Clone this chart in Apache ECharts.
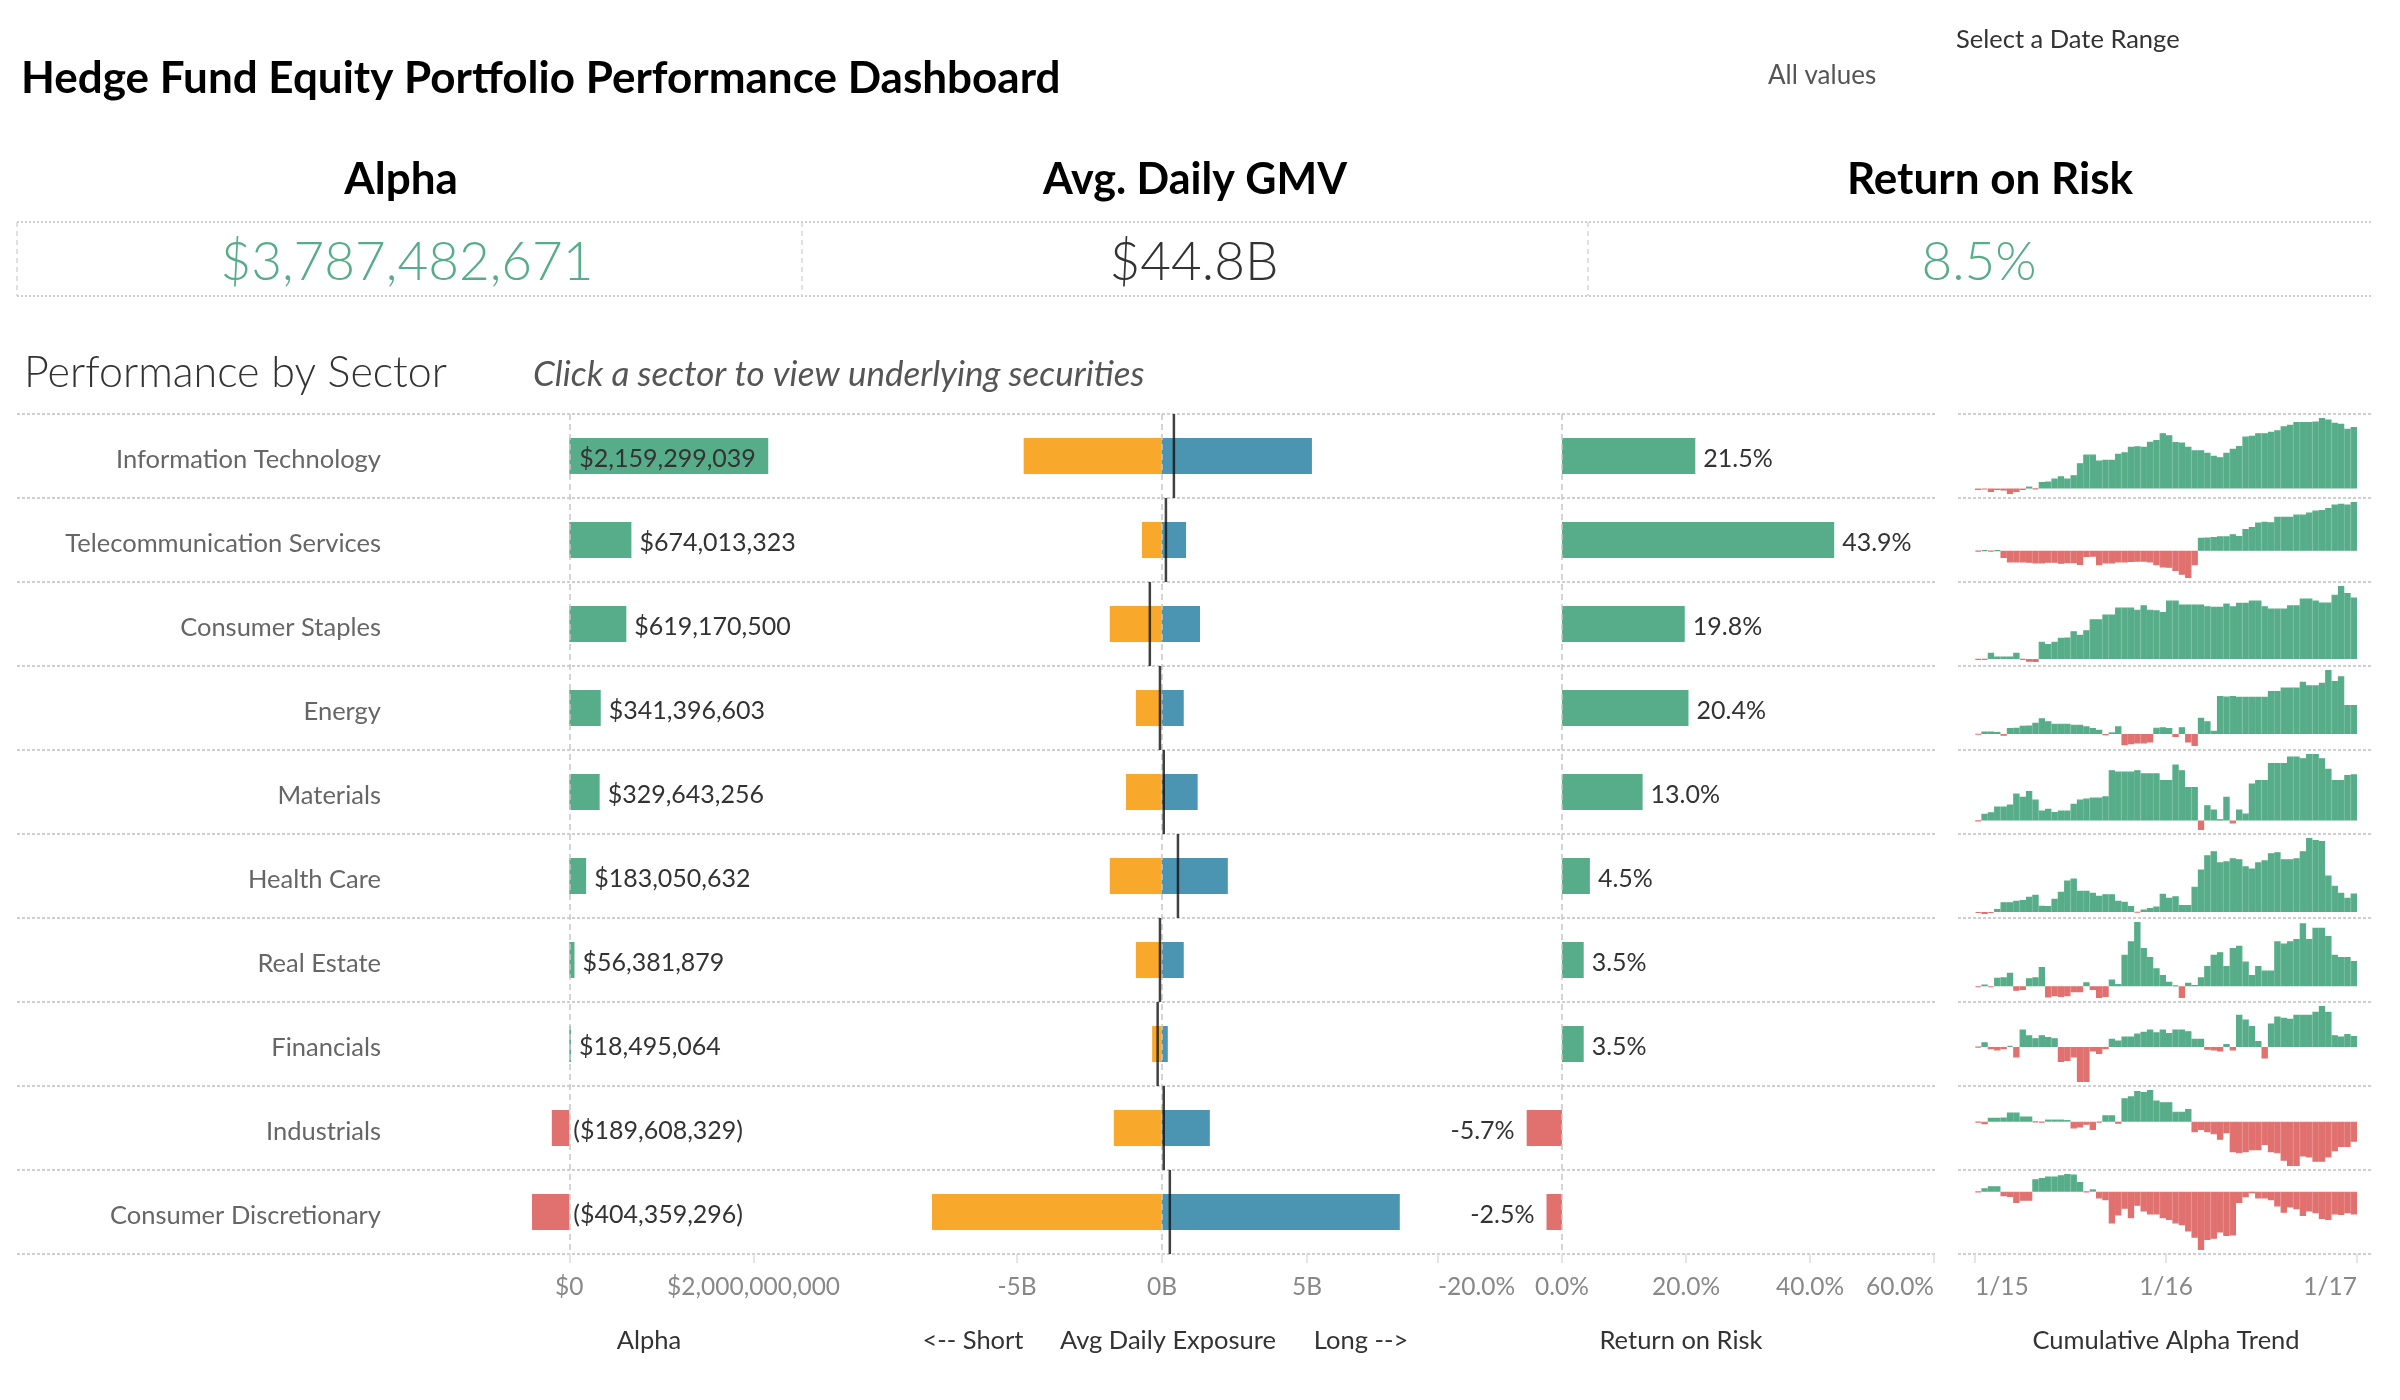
<!DOCTYPE html>
<html><head><meta charset="utf-8">
<script src="https://cdn.jsdelivr.net/npm/echarts@6/dist/echarts.min.js"></script>
<style>html,body{margin:0;padding:0;background:#fff}#c{width:2400px;height:1400px}</style>
</head><body><div id="c"></div><script>
// ---------------- data ----------------
const sectors = ['Information Technology','Telecommunication Services','Consumer Staples','Energy','Materials','Health Care','Real Estate','Financials','Industrials','Consumer Discretionary'];
const alpha = [2159299039, 674013323, 619170500, 341396603, 329643256, 183050632, 56381879, 18495064, -189608329, -404359296];
const shortExposure = [-4.77e9, -0.69e9, -1.80e9, -0.90e9, -1.24e9, -1.80e9, -0.90e9, -0.34e9, -1.66e9, -7.93e9];
const longExposure = [5.17e9, 0.83e9, 1.31e9, 0.75e9, 1.23e9, 2.27e9, 0.75e9, 0.20e9, 1.65e9, 8.20e9];
const netExposure = [0.41e9, 0.135e9, -0.42e9, -0.07e9, 0.06e9, 0.55e9, -0.07e9, -0.15e9, 0.06e9, 0.27e9];
const returnOnRisk = [0.215, 0.439, 0.198, 0.204, 0.130, 0.045, 0.035, 0.035, -0.057, -0.025];
const alphaTicks = [0, 2e9];
const exposureTicks = [-5e9, 0, 5e9];
const dateTicks = ['1/15', '1/16', '1/17'];
const kpiAlpha = '$3,787,482,671';
const kpiGMV = '$44.8B';
const kpiRoR = '8.5%';
// cumulative alpha trend, $M
const trendIT = [-48,-30,-120,-50,-70,-190,-120,-50,70,-20,230,250,350,430,350,470,890,1190,1190,980,1010,1010,1220,1270,1460,1480,1460,1640,1700,1940,1870,1630,1610,1460,1340,1340,1250,1150,1100,1250,1390,1490,1820,1850,1940,1940,1990,2040,2180,2230,2330,2330,2330,2350,2470,2420,2300,2270,2090,2159];
const trendTelecom = [-10,5,-10,5,-100,-160,-160,-160,-165,-175,-175,-165,-165,-180,-170,-170,-195,-85,-80,-200,-175,-175,-160,-160,-155,-150,-150,-160,-200,-230,-235,-280,-330,-375,-200,180,185,190,200,200,230,205,300,330,390,400,395,470,470,470,500,500,530,555,565,590,640,650,640,674];
const trendStaples = [-7,-7,63,25,25,25,63,-7,-28,-30,175,150,175,215,217,280,245,290,400,400,448,448,518,518,518,497,540,497,490,473,588,588,550,550,550,550,532,525,525,560,530,567,567,588,588,532,508,508,508,540,540,609,609,588,570,570,648,735,665,619];
const trendEnergy = [-5,30,30,25,-20,70,74,96,100,131,184,150,122,122,122,110,110,90,70,50,-15,20,90,-131,-120,-110,-110,-100,75,80,70,-35,80,-100,-140,190,150,40,446,440,446,437,437,437,437,437,503,503,546,546,546,612,570,570,600,750,620,677,340,341];
const trendMaterials = [-3,48,60,101,101,115,193,170,212,150,72,85,62,72,72,120,150,157,164,164,173,360,350,350,350,360,337,337,337,290,290,400,360,240,240,-67,110,80,10,170,-20,80,50,265,290,290,410,410,410,458,458,445,475,475,445,370,290,290,325,330];
const trendHealth = [-10,-20,-10,30,97,97,110,117,150,170,62,60,130,200,310,330,210,210,190,160,175,175,110,100,60,-5,25,40,55,180,140,155,70,70,250,420,560,600,490,500,530,520,450,430,490,510,580,590,520,520,530,600,730,710,700,360,260,190,140,183];
const trendRealEstate = [-2,4,-2,19,20,30,-10,-8,18,20,43,-25,-22,-24,-22,-13,-13,9,-8,-26,-24,15,5,70,100,143,85,65,40,25,10,2,-26,8,3,20,45,70,76,45,85,90,55,25,45,35,35,100,95,100,105,140,105,130,130,112,70,65,65,56];
const trendFinancials = [-1,8,-4,-6,-4,2,-18,30,20,15,20,17,15,-26,-24,-18,-60,-60,-8,-12,-4,14,11,18,18,23,26,30,25,30,24,30,30,27,14,14,-5,-6,-8,5,-6,55,47,36,10,-20,40,52,50,48,55,55,55,60,70,60,20,18,22,18.5];
const trendIndustrials = [-7,-25,36,36,40,86,86,50,50,-5,-7,20,20,20,15,-64,-55,-30,-80,-10,60,60,-20,222,240,290,280,300,200,185,185,95,95,120,-100,-80,-100,-120,-172,-110,-290,-300,-290,-270,-270,-220,-290,-300,-370,-420,-420,-330,-340,-380,-380,-340,-280,-240,-240,-190];
const trendConsDisc = [-10,60,93,93,-80,-93,-200,-160,-160,218,240,267,267,290,310,300,170,-10,40,-120,-150,-560,-420,-300,-470,-250,-350,-400,-400,-470,-500,-560,-590,-700,-810,-1026,-850,-830,-720,-780,-770,-200,-100,-30,-120,-120,-150,-260,-370,-280,-310,-430,-350,-380,-480,-500,-400,-410,-380,-404];
const trends = [trendIT, trendTelecom, trendStaples, trendEnergy, trendMaterials, trendHealth, trendRealEstate, trendFinancials, trendIndustrials, trendConsDisc];

// ---------------- styling ----------------
const FONT = 'Lato, "Noto Sans", sans-serif';
const GREEN = '#57ad89', RED = '#e0716f', ORANGE = '#f8a82b', BLUE = '#4b95b3';
const SEP = {show:true, lineStyle:{type:[3,2], color:'#cfcfcf', width:2}};
const TICK_LBL = {color:'#888', fontSize:24.5, margin:21, fontFamily:FONT};
const TICK = {show:true, length:9, lineStyle:{color:'#ddd', width:1.5}};
const ZERO_LINE = {symbol:'none', silent:true, label:{show:false}, lineStyle:{type:[6,4], color:'#c8c8c8', width:1.5}, data:[{xAxis:0}]};
const TOP = 414, ROWH = 84, H = 840;

function fmtDollar(v){ const s = '$' + Math.abs(Math.round(v)).toLocaleString('en-US'); return v < 0 ? '(' + s + ')' : s; }
function fmtPct(v){ return (v*100).toFixed(1) + '%'; }

const grids = [
  {left:17, top:TOP, width:1920, height:H},   // 0 row separators
  {left:385, top:TOP, width:516, height:H},   // 1 alpha
  {left:901, top:TOP, width:522, height:H},   // 2 exposure
  {left:1438, top:TOP, width:496, height:H},  // 3 return on risk
  {left:1958, top:TOP, width:413, height:H},  // 4 sparkline separators
  {left:1975, top:TOP, width:382, height:H}   // 5 date axis
];
const xAxes = [
  {gridIndex:0, type:'value', show:false},
  {gridIndex:1, type:'value', min:-2e9, max:3.6e9, axisLine:{show:false}, splitLine:{show:false},
   axisTick:Object.assign({customValues:alphaTicks}, TICK), axisLabel:Object.assign({customValues:alphaTicks, formatter:fmtDollar}, TICK_LBL)},
  {gridIndex:2, type:'value', min:-9e9, max:9e9, axisLine:{show:false}, splitLine:{show:false},
   axisTick:Object.assign({customValues:exposureTicks}, TICK), axisLabel:Object.assign({customValues:exposureTicks, formatter:v => Math.round(v/1e9) + 'B'}, TICK_LBL)},
  {gridIndex:3, type:'value', min:-0.2, max:0.6, interval:0.2, axisLine:{show:false}, splitLine:{show:false},
   axisTick:TICK, axisLabel:Object.assign({formatter:fmtPct, alignMinLabel:'left', alignMaxLabel:'right'}, TICK_LBL)},
  {gridIndex:4, type:'value', show:false},
  {gridIndex:5, type:'value', min:0, max:2, interval:1, axisLine:{show:false}, splitLine:{show:false},
   axisTick:TICK, axisLabel:Object.assign({formatter:v => dateTicks[Math.round(v)], alignMinLabel:'left', alignMaxLabel:'right'}, TICK_LBL)}
];
const yAxes = [
  {gridIndex:0, type:'category', data:sectors, inverse:true, axisLine:{show:false}, axisTick:{show:false}, axisLabel:{show:false}, splitLine:SEP},
  {gridIndex:1, type:'category', data:sectors, inverse:true, axisLine:{show:false}, axisTick:{show:false}, splitLine:{show:false},
   axisLabel:{color:'#666', fontSize:25.5, margin:4, fontFamily:FONT, verticalAlign:'top', lineHeight:8}},
  {gridIndex:2, type:'category', data:sectors, inverse:true, show:false},
  {gridIndex:3, type:'category', data:sectors, inverse:true, show:false},
  {gridIndex:4, type:'category', data:sectors, inverse:true, axisLine:{show:false}, axisTick:{show:false}, axisLabel:{show:false}, splitLine:SEP},
  {gridIndex:5, type:'value', show:false}
];
const BAR_LABEL = {show:true, color:'#333', fontSize:25, fontFamily:FONT, offset:[0,3]};
const series = [
  {type:'bar', xAxisIndex:1, yAxisIndex:1, barWidth:36, z:3,
   data: alpha.map(v => ({value:v, itemStyle:{color: v >= 0 ? GREEN : RED},
     label: v > 1.5e9 ? {position:'insideLeft', distance:10} : (v < 0 ? {position:'right', distance:4} : {position:'right', distance:8})})),
   label:Object.assign({formatter:p => fmtDollar(p.value)}, BAR_LABEL),
   markLine:ZERO_LINE},
  {type:'bar', xAxisIndex:2, yAxisIndex:2, barWidth:36, barGap:'-100%', z:3, data:shortExposure, itemStyle:{color:ORANGE}, markLine:ZERO_LINE},
  {type:'bar', xAxisIndex:2, yAxisIndex:2, barWidth:36, barGap:'-100%', z:3, data:longExposure, itemStyle:{color:BLUE}},
  {type:'scatter', xAxisIndex:2, yAxisIndex:2, z:5, symbol:'rect', symbolSize:[2.5, ROWH], itemStyle:{color:'#111'},
   data: netExposure.map((v, i) => [v, i])},
  {type:'bar', xAxisIndex:3, yAxisIndex:3, barWidth:36, z:3,
   data: returnOnRisk.map(v => ({value:v, itemStyle:{color: v >= 0 ? GREEN : RED},
     label: v < 0 ? {position:'left', distance:12} : {position:'right', distance:8}})),
   label:Object.assign({formatter:p => fmtPct(p.value)}, BAR_LABEL),
   markLine:ZERO_LINE}
];
trends.forEach((t, i) => {
  grids.push({left:1975, top:TOP + ROWH*i + 4, width:382, height:ROWH - 8});
  xAxes.push({gridIndex:6+i, type:'category', data:t.map((_, k) => k), show:false, boundaryGap:true});
  yAxes.push({gridIndex:6+i, type:'value', show:false, min:v => Math.min(v.min, 0), max:v => Math.max(v.max, 0)});
  series.push({type:'bar', xAxisIndex:6+i, yAxisIndex:6+i, barCategoryGap:'0%', barWidth:'100%', silent:true,
    data:t.map(v => ({value:v, itemStyle:{color: v >= 0 ? GREEN : RED, borderColor: v >= 0 ? GREEN : RED, borderWidth:1.2}}))});
});

function txt(x, y, text, opt){
  return {type:'text', x:x, y:y, silent:true, style:Object.assign({text:text, fontFamily:FONT, textVerticalAlign:'middle', textAlign:'left', fill:'#333', fontSize:22}, opt||{})};
}
function hline(x1, x2, y){ return {type:'line', silent:true, shape:{x1:x1, y1:y, x2:x2, y2:y}, style:{stroke:'#cfcfcf', lineWidth:2, lineDash:[2,2]}}; }
function vline(x, y1, y2){ return {type:'line', silent:true, shape:{x1:x, y1:y1, x2:x, y2:y2}, style:{stroke:'#d6d6d6', lineWidth:1.5, lineDash:[5,4]}}; }

const graphic = [
  txt(21, 79, 'Hedge Fund Equity Portfolio Performance Dashboard', {fontSize:44, fontWeight:'bold', fill:'#000'}),
  txt(1956, 40, 'Select a Date Range', {fontSize:25.5, fill:'#333'}),
  txt(1768, 76, 'All values', {fontSize:26, fill:'#555'}),
  txt(401, 180, 'Alpha', {fontSize:44, fontWeight:'bold', fill:'#000', textAlign:'center'}),
  txt(1195, 180, 'Avg. Daily GMV', {fontSize:43, fontWeight:'bold', fill:'#000', textAlign:'center'}),
  txt(1990, 180, 'Return on Risk', {fontSize:44, fontWeight:'bold', fill:'#000', textAlign:'center'}),
  hline(17, 2372, 222), hline(17, 2372, 296),
  vline(17, 222, 296), vline(802, 222, 296), vline(1588, 222, 296),
  txt(407, 263, kpiAlpha, {fontSize:53, fontWeight:300, fill:GREEN, textAlign:'center'}),
  txt(1194, 263, kpiGMV, {fontSize:53, fontWeight:300, fill:'#333', textAlign:'center'}),
  txt(1979, 263, kpiRoR, {fontSize:53, fontWeight:300, fill:GREEN, textAlign:'center'}),
  txt(24, 373, 'Performance by Sector', {fontSize:43, fontWeight:300, fill:'#333'}),
  txt(533, 375, 'Click a sector to view underlying securities', {fontSize:35, fontStyle:'italic', fill:'#555'}),
  txt(649, 1341, 'Alpha', {textAlign:'center', fontSize:25.5}),
  txt(973, 1341, '<-- Short', {textAlign:'center', fontSize:25.5}),
  txt(1168, 1341, 'Avg Daily Exposure', {textAlign:'center', fontSize:25.5}),
  txt(1361, 1341, 'Long -->', {textAlign:'center', fontSize:25.5}),
  txt(1681, 1341, 'Return on Risk', {textAlign:'center', fontSize:25.5}),
  txt(2166, 1341, 'Cumulative Alpha Trend', {textAlign:'center', fontSize:25.5})
];

const chart = echarts.init(document.getElementById('c'), null, {renderer:'canvas', width:2400, height:1400});
chart.setOption({
  animation:false,
  backgroundColor:'#fff',
  textStyle:{fontFamily:FONT},
  grid:grids, xAxis:xAxes, yAxis:yAxes, series:series, graphic:graphic
});
</script></body></html>
